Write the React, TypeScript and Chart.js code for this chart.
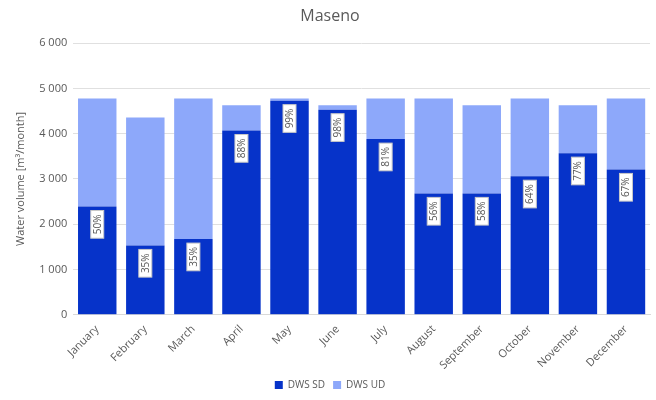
import React, { useEffect, useRef } from "react";
import { Chart, registerables } from "chart.js";

Chart.register(...registerables);

const months = ["January", "February", "March", "April", "May", "June", "July", "August", "September", "October", "November", "December"];
const dwsSD = [2390, 1530, 1670, 4070, 4730, 4530, 3880, 2680, 2680, 3060, 3570, 3210];
const dwsUD = [2390, 2830, 3110, 560, 50, 100, 900, 2100, 1950, 1720, 1060, 1570];
const percentLabels = ["50%", "35%", "35%", "88%", "99%", "98%", "81%", "56%", "58%", "64%", "77%", "67%"];
const yTicks = [0, 1000, 2000, 3000, 4000, 5000, 6000];

const FONT = "'Open Sans', sans-serif";
const GREY = "#595959";

const pctPlugin = {
  id: "pctLabels",
  afterDatasetsDraw(chart: any) {
    const meta = chart.getDatasetMeta(0);
    const ctx = chart.ctx;
    ctx.save();
    ctx.font = `10px ${FONT}`;
    meta.data.forEach((bar: any, i: number) => {
      const text = percentLabels[i];
      const w = ctx.measureText(text).width;
      const padX = 4;
      const boxW = w + padX * 2;
      const boxH = 13;
      ctx.save();
      ctx.translate(bar.x, bar.y + 4);
      ctx.rotate(-Math.PI / 2);
      ctx.fillStyle = "#ffffff";
      ctx.fillRect(-boxW, -boxH / 2, boxW, boxH);
      ctx.strokeStyle = "#c8c8c8";
      ctx.lineWidth = 1;
      ctx.strokeRect(-boxW, -boxH / 2, boxW, boxH);
      ctx.fillStyle = GREY;
      ctx.textAlign = "right";
      ctx.textBaseline = "middle";
      ctx.fillText(text, -padX, 0.5);
      ctx.restore();
    });
    ctx.restore();
  },
};

export default function App() {
  const ref = useRef<HTMLCanvasElement | null>(null);
  useEffect(() => {
    document.body.style.margin = "0";
    const chart = new Chart(ref.current as HTMLCanvasElement, {
      type: "bar",
      data: {
        labels: months,
        datasets: [
          { label: "DWS SD", data: dwsSD, backgroundColor: "#0633c9", barPercentage: 0.8, categoryPercentage: 1 },
          { label: "DWS UD", data: dwsUD, backgroundColor: "#8da8fa", barPercentage: 0.8, categoryPercentage: 1 },
        ],
      },
      options: {
        animation: false,
        responsive: false,
        layout: { padding: { left: 10, right: 6, top: 2, bottom: 0 } },
        plugins: {
          title: {
            display: true,
            text: "Maseno",
            color: GREY,
            font: { family: FONT, size: 16, weight: "normal" },
            padding: { top: 5, bottom: 17 },
          },
          legend: {
            position: "bottom",
            labels: {
              color: GREY,
              font: { family: FONT, size: 10 },
              boxWidth: 8,
              boxHeight: 8,
              padding: 8,
            },
          },
          tooltip: { enabled: false },
        },
        scales: {
          x: {
            stacked: true,
            grid: { display: false },
            border: { color: "#d9d9d9" },
            ticks: {
              color: GREY,
              font: { family: FONT, size: 11 },
              minRotation: 45,
              maxRotation: 45,
              padding: 0,
            },
          },
          y: {
            stacked: true,
            min: 0,
            max: 6000,
            afterBuildTicks(axis: any) {
              axis.ticks = yTicks.map((v) => ({ value: v }));
            },
            grid: { color: "#e0e0e0", drawTicks: false },
            border: { display: false },
            ticks: {
              color: GREY,
              font: { family: FONT, size: 11 },
              padding: 6,
              callback: (v: any) => Number(v).toLocaleString("en-US").replace(/,/g, " "),
            },
            title: {
              display: true,
              text: "Water volume [m³/month]",
              color: GREY,
              font: { family: FONT, size: 11 },
              padding: { bottom: 6 },
            },
          },
        },
      },
      plugins: [pctPlugin],
    } as any);
    return () => chart.destroy();
  }, []);
  return (
    <div style={{ width: 656, height: 400, background: "#fff" }}>
      <canvas ref={ref} width={656} height={400} />
    </div>
  );
}
